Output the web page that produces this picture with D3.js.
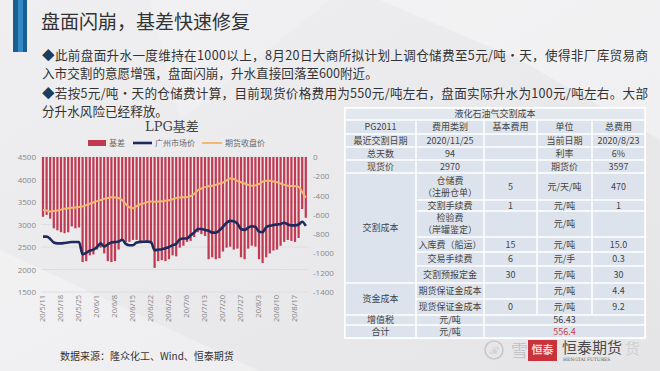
<!DOCTYPE html>
<html>
<head>
<meta charset="utf-8">
<script src="https://cdn.jsdelivr.net/npm/d3@7"></script>
<style>
  html, body { margin: 0; padding: 0; background: #ebebed; }
  svg { display: block; font-family: "Noto Sans CJK SC", "Noto Sans", sans-serif; }
</style>
</head>
<body>
<svg id="slide" width="660" height="371"></svg>
<script>
// ---- chart data ----
const dates = [
  "20/5/11","20/5/12","20/5/13","20/5/14","20/5/15",
  "20/5/18","20/5/19","20/5/20","20/5/21","20/5/22",
  "20/5/25","20/5/26","20/5/27","20/5/28","20/5/29",
  "20/6/1","20/6/2","20/6/3","20/6/4","20/6/5",
  "20/6/8","20/6/9","20/6/10","20/6/11","20/6/12",
  "20/6/15","20/6/16","20/6/17","20/6/18","20/6/19",
  "20/6/22","20/6/23","20/6/24","20/6/25","20/6/26",
  "20/6/29","20/6/30","20/7/1","20/7/2","20/7/3",
  "20/7/6","20/7/7","20/7/8","20/7/9","20/7/10",
  "20/7/13","20/7/14","20/7/15","20/7/16","20/7/17",
  "20/7/20","20/7/21","20/7/22","20/7/23","20/7/24",
  "20/7/27","20/7/28","20/7/29","20/7/30","20/7/31",
  "20/8/3","20/8/4","20/8/5","20/8/6","20/8/7",
  "20/8/10","20/8/11","20/8/12","20/8/13","20/8/14",
  "20/8/17","20/8/18","20/8/19","20/8/20"
];

// 基差 (right axis)
const basis = [
  -620, -600, -640, -740, -760,
  -780, -790, -780, -720, -740,
  -730, -1090, -1080, -1020, -1010,
  -960, -940, -1000, -1080, -1090,
  -1080, -960, -870, -880, -880,
  -860, -860, -890, -860, -880,
  -900, -1150, -1080, -1070, -1080,
  -1060, -1020, -1030, -940, -920,
  -880, -870, -830, -780, -800,
  -820, -1060, -1040, -1060, -1050,
  -980, -940, -930, -960, -950,
  -1040, -1060, -950, -920, -930,
  -1060, -1100, -1040, -1000, -970,
  -960, -920, -880, -860, -870,
  -880, -840, -540, -630
];

// 广州市场价 (left axis)
const spotGZ = [
  2730, 2730, 2680, 2600, 2580,
  2580, 2590, 2600, 2610, 2610,
  2610, 2340, 2370, 2420, 2440,
  2500, 2580, 2510, 2560, 2600,
  2610, 2620, 2660, 2570, 2540,
  2540, 2600, 2610, 2620, 2620,
  2610, 2430, 2440, 2450, 2470,
  2500, 2540, 2570, 2670, 2690,
  2690, 2760, 2820, 2900, 2900,
  2880, 2860, 2820, 2820, 2870,
  2950, 3040, 3080, 3070, 3020,
  2900, 2880, 2930, 2960, 2950,
  2840, 2830, 2940, 2970, 2990,
  3000, 3010, 3040, 3000, 2980,
  2980, 3000, 3060, 2970
];

// 期货收盘价 (left axis)
const futures = [
  3320, 3310, 3290, 3300, 3310,
  3330, 3350, 3360, 3370, 3380,
  3390, 3400, 3430, 3460, 3490,
  3520, 3545, 3570, 3590, 3605,
  3600, 3590, 3540, 3450, 3380,
  3360, 3410, 3450, 3470, 3500,
  3510, 3505, 3510, 3515, 3530,
  3540, 3560, 3590, 3600, 3605,
  3610, 3630, 3680, 3760, 3800,
  3830, 3850, 3860, 3880, 3910,
  3930, 3980, 4020, 4010, 3970,
  3940, 3910, 3880, 3860, 3870,
  3900, 3950, 3975, 3970, 3955,
  3940, 3910, 3880, 3860, 3855,
  3850, 3840, 3720, 3597
];

const leftTicks = [4500, 4000, 3500, 3000, 2500, 2000, 1500];
const rightTicks = [0, -200, -400, -600, -800, -1000, -1200, -1400];

// ---- table content ----
const tableCols = [345, 416, 484, 537, 592, 645];
const tableRows = [108, 120, 134, 147, 160, 173, 200, 211, 237, 252, 266, 283, 299, 315, 325, 338];
const tableCells = [
  {r: 0, c: 0, cs: 5, t: "液化石油气交割成本"},
  {r: 1, c: 0, t: "PG2011"}, {r: 1, c: 1, t: "费用类别"}, {r: 1, c: 2, t: "基本费用"}, {r: 1, c: 3, t: "单位"}, {r: 1, c: 4, t: "总费用"},
  {r: 2, c: 0, t: "最近交割日期"}, {r: 2, c: 1, t: "2020/11/25"}, {r: 2, c: 2, t: ""}, {r: 2, c: 3, t: "当前日期"}, {r: 2, c: 4, t: "2020/8/23"},
  {r: 3, c: 0, t: "总天数"}, {r: 3, c: 1, t: "94"}, {r: 3, c: 2, t: ""}, {r: 3, c: 3, t: "利率"}, {r: 3, c: 4, t: "6%"},
  {r: 4, c: 0, t: "现货价"}, {r: 4, c: 1, t: "2970"}, {r: 4, c: 2, t: ""}, {r: 4, c: 3, t: "期货价"}, {r: 4, c: 4, t: "3597"},
  {r: 5, c: 0, rs: 6, t: "交割成本"},
  {r: 5, c: 1, t: "仓储费|（注册仓单）"}, {r: 5, c: 2, t: "5"}, {r: 5, c: 3, t: "元/天/吨"}, {r: 5, c: 4, t: "470"},
  {r: 6, c: 1, t: "交割手续费"}, {r: 6, c: 2, t: "1"}, {r: 6, c: 3, t: "元/吨"}, {r: 6, c: 4, t: "1"},
  {r: 7, c: 1, t: "检验费|（岸罐鉴定）"}, {r: 7, c: 2, t: ""}, {r: 7, c: 3, t: "元/吨"}, {r: 7, c: 4, t: ""},
  {r: 8, c: 1, t: "入库费（船运）"}, {r: 8, c: 2, t: "15"}, {r: 8, c: 3, t: "元/吨"}, {r: 8, c: 4, t: "15.0"},
  {r: 9, c: 1, t: "交易手续费"}, {r: 9, c: 2, t: "6"}, {r: 9, c: 3, t: "元/手"}, {r: 9, c: 4, t: "0.3"},
  {r: 10, c: 1, t: "交割预报定金"}, {r: 10, c: 2, t: "30"}, {r: 10, c: 3, t: "元/吨"}, {r: 10, c: 4, t: "30"},
  {r: 11, c: 0, rs: 2, t: "资金成本"},
  {r: 11, c: 1, t: "期货保证金成本"}, {r: 11, c: 2, t: ""}, {r: 11, c: 3, t: "元/吨"}, {r: 11, c: 4, t: "4.4"},
  {r: 12, c: 1, t: "现货保证金成本"}, {r: 12, c: 2, t: "0"}, {r: 12, c: 3, t: "元/吨"}, {r: 12, c: 4, t: "9.2"},
  {r: 13, c: 0, t: "增值税"}, {r: 13, c: 1, t: "元/吨"}, {r: 13, c: 2, cs: 3, t: "56.43"},
  {r: 14, c: 0, t: "合计"}, {r: 14, c: 1, t: "元/吨"}, {r: 14, c: 2, cs: 3, t: "556.4", red: true}
];

const svg = d3.select('#slide');

// ---- background ----
const defs = svg.append('defs');
const bg = defs.append('linearGradient').attr('id', 'bg')
  .attr('x1', 0).attr('y1', 0).attr('x2', 1).attr('y2', 1);
bg.append('stop').attr('offset', 0).attr('stop-color', '#efeff1');
bg.append('stop').attr('offset', 1).attr('stop-color', '#e5e5e8');
svg.append('rect').attr('width', 660).attr('height', 371).attr('fill', 'url(#bg)');
svg.append('polygon').attr('points', '380,0 660,0 660,140 520,60').attr('fill', '#fff').attr('opacity', 0.35);
svg.append('polygon').attr('points', '0,250 0,371 260,371').attr('fill', '#fff').attr('opacity', 0.3);
svg.append('polygon').attr('points', '150,0 330,0 180,120').attr('fill', '#fff').attr('opacity', 0.18);

// ---- title block ----
svg.append('rect').attr('x', 13).attr('y', 0).attr('width', 14).attr('height', 52).attr('fill', '#1b5f92');
svg.append('rect').attr('x', 18).attr('y', 0).attr('width', 5).attr('height', 52).attr('fill', '#3389c6');

svg.append('text').attr('x', 41).attr('y', 29)
  .attr('font-size', 19).attr('fill', '#333').text('盘面闪崩，基差快速修复');

const bullets = [
  {y: 60, t: '◆此前盘面升水一度维持在1000以上，8月20日大商所拟计划上调仓储费至5元/吨·天，使得非厂库贸易商', w: 606},
  {y: 78, t: '入市交割的意愿增强，盘面闪崩，升水直接回落至600附近。'},
  {y: 98, t: '◆若按5元/吨·天的仓储费计算，目前现货价格费用为550元/吨左右，盘面实际升水为100元/吨左右。大部', w: 606},
  {y: 116, t: '分升水风险已经释放。'}
];
svg.selectAll('.bullet').data(bullets).enter().append('text')
  .attr('class', 'bullet')
  .attr('x', 42).attr('y', d => d.y)
  .attr('font-size', 12.6).attr('fill', '#333')
  .each(function(d) {
    const el = d3.select(this);
    if (d.w) el.attr('textLength', d.w).attr('lengthAdjust', 'spacing');
    if (d.t.startsWith('◆')) {
      el.append('tspan').attr('fill', '#1d3d5e').text('◆');
      el.append('tspan').text(d.t.slice(1));
    } else {
      el.text(d.t);
    }
  });

// ---- chart ----
const x = d3.scaleBand().domain(dates).range([41.2, 307.6]).paddingInner(0.38).paddingOuter(0.19);
const yL = d3.scaleLinear().domain([1500, 4500]).range([292, 157]);
const yR = d3.scaleLinear().domain([-1400, 0]).range([292, 157]);
const cx = d => x(d) + x.bandwidth() / 2;

const chart = svg.append('g');

chart.append('text').attr('x', 172).attr('y', 131).attr('text-anchor', 'middle')
  .attr('font-size', 13).attr('fill', '#444')
  .attr('font-family', '"DejaVu Serif", "Noto Sans CJK SC", serif').text('LPG基差');

// gridlines
chart.selectAll('.grid').data(leftTicks).enter().append('line')
  .attr('x1', 41).attr('x2', 308)
  .attr('y1', d => yL(d)).attr('y2', d => yL(d))
  .attr('stroke', '#dadadc').attr('stroke-width', 0.8);

// bars hang from 0
chart.selectAll('.bar').data(basis).enter().append('rect')
  .attr('x', (d, i) => x(dates[i]))
  .attr('width', x.bandwidth())
  .attr('y', yR(0))
  .attr('height', d => yR(d) > yR(0) ? yR(d) - yR(0) : 0)
  .attr('fill', '#c13a52');

const priceLine = d3.line().x((d, i) => cx(dates[i])).y(d => yL(d)).curve(d3.curveMonotoneX);
chart.append('path').datum(futures).attr('d', priceLine)
  .attr('fill', 'none').attr('stroke', '#f5b86e').attr('stroke-width', 2);
chart.append('path').datum(spotGZ).attr('d', priceLine)
  .attr('fill', 'none').attr('stroke', '#1e2a5c').attr('stroke-width', 2.6);

// axes
const plain = d => String(d);
const axL = chart.append('g').attr('transform', 'translate(36,0)')
  .call(d3.axisLeft(yL).tickValues(leftTicks).tickFormat(plain).tickSize(0).tickPadding(0));
axL.select('.domain').remove();
axL.selectAll('text').attr('font-size', 8).attr('fill', '#888').attr('font-family', '"Open Sans", sans-serif');

const axR = chart.append('g').attr('transform', 'translate(313,0)')
  .call(d3.axisRight(yR).tickValues(rightTicks).tickFormat(plain).tickSize(0).tickPadding(0));
axR.select('.domain').remove();
axR.selectAll('text').attr('font-size', 8).attr('fill', '#888').attr('font-family', '"Open Sans", sans-serif');

const axB = chart.append('g').attr('transform', 'translate(0,295)')
  .call(d3.axisBottom(x).tickValues(dates.filter((d, i) => i % 5 === 0)).tickSize(0).tickPadding(0));
axB.select('.domain').remove();
axB.selectAll('text')
  .attr('font-size', 7.5).attr('fill', '#888').attr('font-family', '"Open Sans", sans-serif')
  .attr('text-anchor', 'end').attr('dy', '0.32em').attr('dx', 0).attr('y', 0)
  .attr('transform', 'rotate(-90)');

// legend
const legend = chart.append('g').attr('font-size', 8).attr('fill', '#666');
legend.append('rect').attr('x', 88).attr('y', 140).attr('width', 18).attr('height', 6).attr('fill', '#c13a52');
legend.append('text').attr('x', 109).attr('y', 146).text('基差');
legend.append('line').attr('x1', 133).attr('x2', 152).attr('y1', 143).attr('y2', 143)
  .attr('stroke', '#1e2a5c').attr('stroke-width', 2.6);
legend.append('text').attr('x', 155).attr('y', 146).text('广州市场价');
legend.append('line').attr('x1', 202).attr('x2', 222).attr('y1', 143).attr('y2', 143)
  .attr('stroke', '#f5b86e').attr('stroke-width', 2);
legend.append('text').attr('x', 225).attr('y', 146).text('期货收盘价');

svg.append('text').attr('x', 60).attr('y', 360).attr('font-size', 10).attr('fill', '#333')
  .text('数据来源：隆众化工、Wind、恒泰期货');

// ---- table ----
const table = svg.append('g');
table.append('rect').attr('x', tableCols[0] - 1).attr('y', tableRows[0] - 1)
  .attr('width', tableCols[5] - tableCols[0] + 2).attr('height', tableRows[15] - tableRows[0] + 2)
  .attr('fill', '#fff');
tableCells.forEach(cell => {
  const cs = cell.cs || 1, rs = cell.rs || 1;
  const x0 = tableCols[cell.c], x1 = tableCols[cell.c + cs];
  const y0 = tableRows[cell.r], y1 = tableRows[cell.r + rs];
  table.append('rect').attr('x', x0 + 0.75).attr('y', y0 + 0.75)
    .attr('width', x1 - x0 - 1.5).attr('height', y1 - y0 - 1.5)
    .attr('fill', cell.r === 0 ? '#e3e8ef' : '#dde3ec');
  const lines = cell.t.split('|').filter(s => s.length);
  const mid = (y0 + y1) / 2;
  lines.forEach((s, k) => {
    table.append('text')
      .attr('x', (x0 + x1) / 2)
      .attr('y', mid + (k - (lines.length - 1) / 2) * 12)
      .attr('dy', '0.35em')
      .attr('text-anchor', 'middle')
      .attr('font-size', 9)
      .attr('fill', cell.red ? '#c8404a' : '#444')
      .text(s);
  });
});

// ---- watermark / logo ----
const wm = svg.append('g');
wm.append('circle').attr('cx', 494).attr('cy', 350).attr('r', 9).attr('fill', 'none')
  .attr('stroke', '#c8c8ca').attr('stroke-width', 1.6);
wm.append('text').attr('x', 494).attr('y', 354).attr('text-anchor', 'middle')
  .attr('font-size', 10).attr('fill', '#c8c8ca').text('ℛ');
wm.append('text').attr('x', 511).attr('y', 357).attr('font-size', 17).attr('fill', '#c4c4c6').text('雪');
wm.append('rect').attr('x', 528).attr('y', 340).attr('width', 29).attr('height', 21).attr('fill', '#c9333b');
wm.append('text').attr('x', 542.5).attr('y', 354).attr('text-anchor', 'middle')
  .attr('font-size', 11).attr('font-weight', 'bold').attr('fill', '#f4d7d7').text('恒泰');
wm.append('text').attr('x', 562).attr('y', 353).attr('font-size', 15).attr('fill', '#4a4a4c').text('恒泰期货');
wm.append('text').attr('x', 563).attr('y', 361).attr('font-size', 4.5).attr('fill', '#555')
  .attr('font-family', '"DejaVu Serif", serif').text('HENGTAI FUTURES');
wm.append('text').attr('x', 625).attr('y', 354).attr('font-size', 15).attr('fill', '#cfcfd1').text('货');
</script>
</body>
</html>
